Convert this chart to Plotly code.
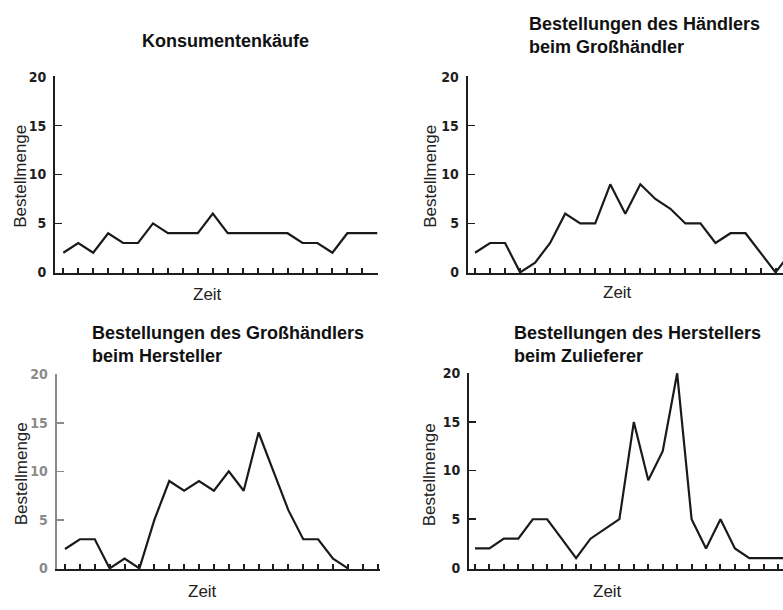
import plotly.graph_objects as go

W, H = 783, 610

# ---- data ----
y_ticks = [0, 5, 10, 15, 20]
titles = [
    "Konsumentenkäufe",
    "Bestellungen des Händlers<br>beim Großhändler",
    "Bestellungen des Großhändlers<br>beim Hersteller",
    "Bestellungen des Herstellers<br>beim Zulieferer",
]
y_label = "Bestellmenge"
x_label = "Zeit"

konsument = [2, 3, 2, 4, 3, 3, 5, 4, 4, 4, 6, 4, 4, 4, 4, 4, 3, 3, 2, 4, 4, 4]
haendler = [2, 3, 3, 0, 1, 3, 6, 5, 5, 9, 6, 9, 7.5, 6.5, 5, 5, 3, 4, 4, 2, 0, 2]
grosshaendler = [2, 3, 3, 0, 1, 0, 5, 9, 8, 9, 8, 10, 8, 14, 10, 6, 3, 3, 1, 0]
hersteller = [2, 2, 3, 3, 5, 5, 3, 1, 3, 4, 5, 15, 9, 12, 20, 5, 2, 5, 2, 1, 1, 1, 1]

n_periods = [22, 21, 22, 22]   # tick marks per panel
series = [konsument, haendler, grosshaendler, hersteller]

# ---- layout geometry (pixels) ----
def px_x(x):
    return x / W

def px_y(y):
    return 1 - y / H

# (axis_left, axis_right, y_top(20), y_bottom(0), x_first_point, spacing)
panels = [
    (55, 378, 70, 272, 63.3, 14.95),
    (467.7, 783, 70, 272, 475, 15.03),
    (56.5, 380, 375, 575.5, 65, 14.89),
    (469, 783, 374, 575, 475, 14.44),
]
yaxis_colors = ["#1e1e1e", "#1e1e1e", "#8a8a8a", "#1e1e1e"]

fig = go.Figure()
layout = dict(
    width=W, height=H,
    margin=dict(l=0, r=0, t=0, b=0),
    paper_bgcolor="white", plot_bgcolor="white",
    showlegend=False,
    annotations=[],
)

tickfont = dict(family="Liberation Sans Narrow, DejaVu Sans Condensed, Arial Narrow, sans-serif",
                size=14, color="#222", weight="bold")

for k, (xl, xr, yt, yb, x0p, sp) in enumerate(panels):
    idx = "" if k == 0 else str(k + 1)
    data = series[k]
    xs = list(range(len(data)))
    fig.add_trace(go.Scatter(
        x=xs, y=data, mode="lines",
        line=dict(color="#1a1a1a", width=2.2),
        xaxis="x" + idx, yaxis="y" + idx, hoverinfo="skip",
    ))
    r0 = -(x0p - xl) / sp
    r1 = r0 + (xr - xl) / sp
    layout["xaxis" + idx] = dict(
        domain=[px_x(xl), px_x(xr)], range=[r0, r1], anchor="y" + idx,
        showgrid=False, zeroline=False, showline=True, linewidth=2, linecolor="#1e1e1e",
        ticks="inside", ticklen=5, tickwidth=2, tickcolor="#1e1e1e",
        tickvals=list(range(n_periods[k])), showticklabels=False, fixedrange=True,
    )
    yc = yaxis_colors[k]
    tf = dict(tickfont)
    tf["color"] = yc
    layout["yaxis" + idx] = dict(
        domain=[px_y(yb), px_y(yt)], range=[-0.1, 20.05], anchor="x" + idx,
        showgrid=False, zeroline=False, showline=True, linewidth=2, linecolor=yc,
        ticks="inside", ticklen=7, tickwidth=1.5, tickcolor=yc,
        tickvals=y_ticks, ticktext=[str(v) for v in y_ticks], tickfont=tf,
        ticklabelstandoff=4, fixedrange=True,
    )

label_font = dict(family="Liberation Sans, Arial, sans-serif", size=17, color="#222")
title_font = dict(family="Liberation Sans, Arial, sans-serif", size=18, color="#111", weight="bold")

# y-axis titles
for (x, y) in [(21, 173), (431, 172), (21, 478), (429, 478)]:
    layout["annotations"].append(dict(
        text=y_label, x=px_x(x), y=px_y(y), xref="paper", yref="paper",
        xanchor="center", yanchor="middle", textangle=-90, showarrow=False, font=label_font))
# x-axis titles
for (x, y) in [(207, 294), (617, 292), (202, 598), (607, 598)]:
    layout["annotations"].append(dict(
        text=x_label, x=px_x(x), y=px_y(y), xref="paper", yref="paper",
        xanchor="center", yanchor="middle", showarrow=False, font=label_font))

# panel titles
layout["annotations"].append(dict(
    text=titles[0], x=px_x(226), y=px_y(34), xref="paper", yref="paper",
    xanchor="center", yanchor="middle", showarrow=False, font=title_font))
for t, (x, y) in zip(titles[1:], [(527, 28), (90, 345), (512, 345)]):
    layout["annotations"].append(dict(
        text=t, x=px_x(x), y=px_y(y), xref="paper", yref="paper",
        xanchor="left", yanchor="middle", align="left", showarrow=False, font=title_font))

fig.update_layout(**layout)
fig.write_html(
    "out.html",
    config={"displayModeBar": False, "staticPlot": True},
    post_script="document.body.style.margin='0';document.body.style.overflow='hidden';",
)
